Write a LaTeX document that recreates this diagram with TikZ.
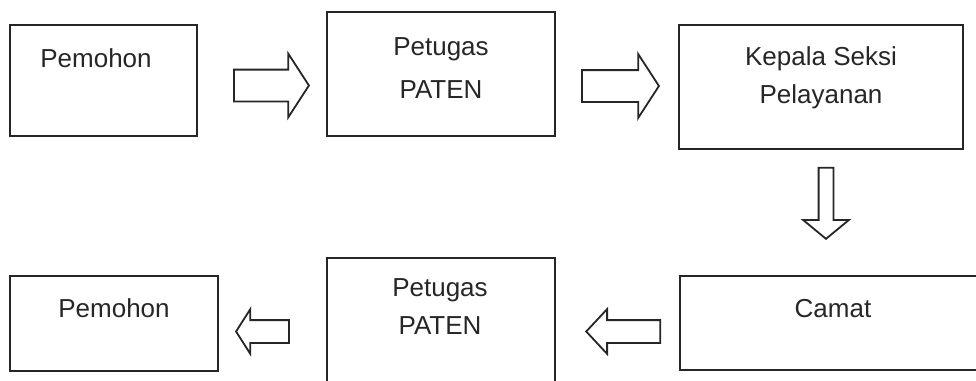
\documentclass[tikz,border=0pt]{standalone}
\usepackage{fontspec}
\setmainfont{Liberation Sans}
\usetikzlibrary{shapes.arrows}

\tikzset{
	kotak/.style={draw=black!85, line width=1.6pt, inner sep=0pt},
	teks/.style={font=\fontsize{26}{38}\selectfont, align=center, anchor=base, text=black!85},
	panah/.style={single arrow, draw=black!85, line width=1.8pt, single arrow head indent=0pt, anchor=tip},
	panahbesar/.style={panah, inner sep=15pt, single arrow head extend=16pt, single arrow tip angle=114},
	panahkecil/.style={panah, inner sep=10.5pt, single arrow head extend=11pt}
}

\begin{document}
\begin{tikzpicture}[x=1pt,y=-1pt]
\useasboundingbox (0,0) rectangle (976,380);
\clip (0,0) rectangle (976,380);

\node[kotak, minimum width=187pt, minimum height=111pt] (pemohon) at (103.5,80.5) {};
\node[kotak, minimum width=228pt, minimum height=124pt] (petugas) at (441,74) {};
\node[kotak, minimum width=284pt, minimum height=124pt] (kasi) at (821,87) {};
\node[kotak, minimum width=306pt, minimum height=94pt] (camat) at (833,323) {};
\node[kotak, minimum width=228pt, minimum height=124pt] (petugas2) at (441,320) {};
\node[kotak, minimum width=208pt, minimum height=95pt] (pemohon2) at (114,323.5) {};

% teks (base = baris terakhir)
\node[teks] (tpemohon) at (96,67) {Pemohon};
\node[teks] (tpetugas) at (441,98) {Petugas\\[5pt]PATEN};
\node[teks] (tkasi) at (821,103) {Kepala Seksi\\Pelayanan};
\node[teks] (tcamat) at (833,317) {Camat};
\node[teks] (tpetugas2) at (440,334) {Petugas\\PATEN};
\node[teks] (tpemohon2) at (114,317) {Pemohon};

% panah (di ujungnya)
\node[panahbesar, minimum height=75pt] (p1) at (310,85.5) {};
\node[panahbesar, minimum height=77pt] (p2) at (660,86) {};
\node[panah, minimum height=71pt, inner sep=6.5pt, single arrow head extend=15.5pt, single arrow tip angle=101, shape border rotate=270] (p3) at (826,240) {};
\node[panahkecil, minimum height=74pt, single arrow tip angle=94, shape border rotate=180] (p4) at (585,331.5) {};
\node[panahkecil, minimum height=53pt, single arrow tip angle=115, shape border rotate=180] (p5) at (235,331.5) {};

\end{tikzpicture}
\end{document}
